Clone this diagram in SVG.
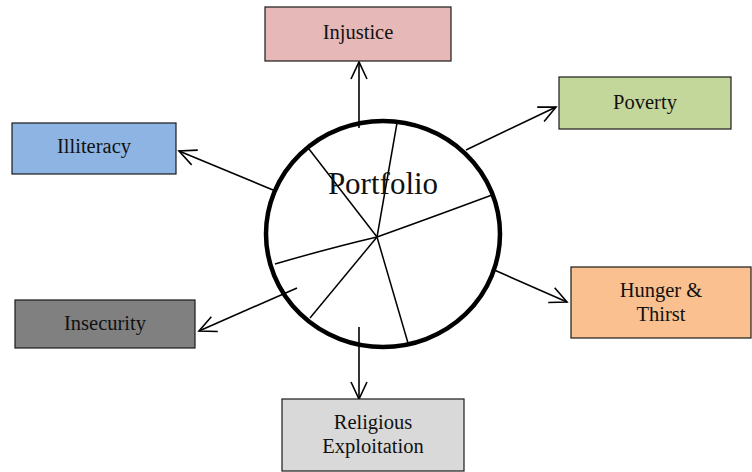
<svg xmlns="http://www.w3.org/2000/svg" width="752" height="472" viewBox="0 0 752 472">
<style>
.box{stroke:#1a1a1a;stroke-width:1.2}
.lbl{font-family:"Liberation Serif","Times New Roman",serif;font-size:20.5px;fill:#111;text-anchor:middle}
.conn{stroke:#000;stroke-width:1.6;fill:none}
.ah{stroke:#000;stroke-width:1.6;fill:none}
</style>
<defs>
<marker id="arr" viewBox="0 0 20 20" refX="18" refY="10" markerWidth="20" markerHeight="20" markerUnits="userSpaceOnUse" orient="auto">
<path d="M1,2 L18,10 L1,18" fill="none" stroke="#000" stroke-width="1.6"/>
</marker>
</defs>
<rect width="752" height="472" fill="#fff"/>
<g id="portfolio">
<ellipse cx="383" cy="234" rx="117" ry="113" fill="#fff" stroke="#000" stroke-width="4.5"/>
<g stroke="#000" stroke-width="1.5" fill="none">
<line x1="377" y1="237" x2="397" y2="123"/>
<line x1="377" y1="237" x2="309" y2="149"/>
<path d="M275,264 Q330,248 377,237 Q430,218 492,195"/>
<line x1="377" y1="237" x2="310" y2="318"/>
<line x1="377" y1="237" x2="408" y2="343"/>
</g>
<text x="383" y="194" font-family="Liberation Serif,Times New Roman,serif" font-size="31" fill="#111" text-anchor="middle">Portfolio</text>
</g>
<g id="connectors">
<line class="conn" x1="359" y1="128" x2="359" y2="62" marker-end="url(#arr)"/>
<line class="conn" x1="466" y1="150" x2="556" y2="107" marker-end="url(#arr)"/>
<line class="conn" x1="273" y1="190" x2="179" y2="151" marker-end="url(#arr)"/>
<line class="conn" x1="297" y1="288" x2="199" y2="331" marker-end="url(#arr)"/>
<line class="conn" x1="492" y1="269" x2="567" y2="302" marker-end="url(#arr)"/>
<line class="conn" x1="359" y1="327" x2="359" y2="399" marker-end="url(#arr)"/>
</g>
<g id="injustice">
<rect class="box" x="265" y="7" width="186" height="54" fill="#E6B8B7"/>
<text class="lbl" x="358" y="39">Injustice</text>
</g>
<g id="poverty">
<rect class="box" x="559" y="77" width="172" height="52" fill="#C4D79B"/>
<text class="lbl" x="645" y="109">Poverty</text>
</g>
<g id="illiteracy">
<rect class="box" x="12" y="123" width="164" height="51" fill="#8DB4E2"/>
<text class="lbl" x="94" y="153">Illiteracy</text>
</g>
<g id="insecurity">
<rect class="box" x="15" y="300" width="180" height="48" fill="#808080"/>
<text class="lbl" x="105" y="330">Insecurity</text>
</g>
<g id="hunger">
<rect class="box" x="571" y="267" width="180" height="71" fill="#FAC090"/>
<text class="lbl" x="661" y="297">Hunger &amp;</text>
<text class="lbl" x="661" y="321">Thirst</text>
</g>
<g id="religious">
<rect class="box" x="282" y="399" width="182" height="72" fill="#D9D9D9"/>
<text class="lbl" x="373" y="429">Religious</text>
<text class="lbl" x="373" y="453">Exploitation</text>
</g>
</svg>
